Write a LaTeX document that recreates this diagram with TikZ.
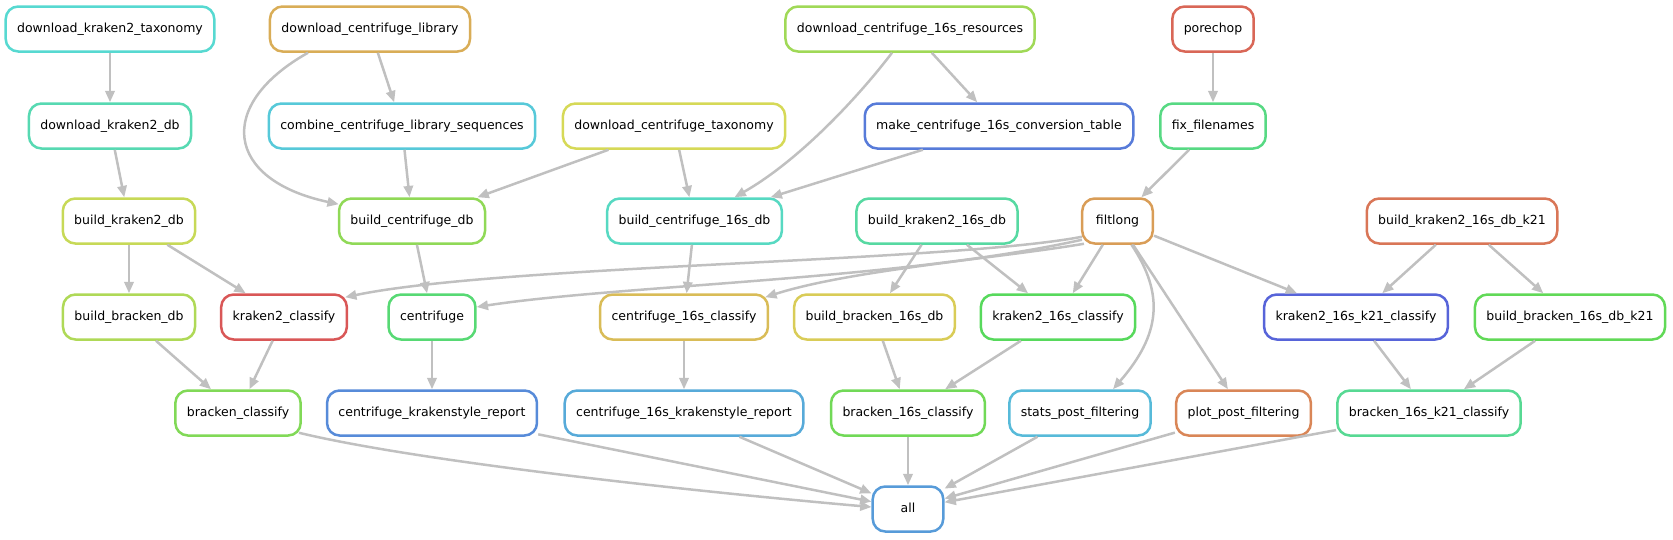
\documentclass[tikz,border=0pt]{standalone}
\usepackage{fontspec}
\setmainfont{DejaVu Sans}
\usetikzlibrary{arrows.meta,calc}
\definecolor{edgegrey}{HTML}{C0C0C0}
\definecolor{c0}{RGB}{217,87,87}
\definecolor{c1}{RGB}{217,103,87}
\definecolor{c2}{RGB}{217,118,87}
\definecolor{c3}{RGB}{217,134,87}
\definecolor{c4}{RGB}{217,157,87}
\definecolor{c5}{RGB}{217,173,87}
\definecolor{c6}{RGB}{217,188,87}
\definecolor{c7}{RGB}{217,204,87}
\definecolor{c8}{RGB}{214,217,87}
\definecolor{c9}{RGB}{199,217,87}
\definecolor{c10}{RGB}{175,217,87}
\definecolor{c11}{RGB}{160,217,87}
\definecolor{c12}{RGB}{144,217,87}
\definecolor{c13}{RGB}{129,217,87}
\definecolor{c14}{RGB}{113,217,87}
\definecolor{c15}{RGB}{97,217,87}
\definecolor{c16}{RGB}{87,217,92}
\definecolor{c17}{RGB}{87,217,116}
\definecolor{c18}{RGB}{87,217,131}
\definecolor{c19}{RGB}{87,217,147}
\definecolor{c20}{RGB}{87,217,162}
\definecolor{c21}{RGB}{87,217,178}
\definecolor{c22}{RGB}{87,217,194}
\definecolor{c23}{RGB}{87,217,209}
\definecolor{c24}{RGB}{87,201,217}
\definecolor{c25}{RGB}{87,186,217}
\definecolor{c26}{RGB}{87,170,217}
\definecolor{c27}{RGB}{87,155,217}
\definecolor{c28}{RGB}{87,139,217}
\definecolor{c29}{RGB}{87,123,217}
\definecolor{c30}{RGB}{87,100,217}
\begin{document}
\begin{tikzpicture}[x=0.75pt,y=-0.75pt,
  rule/.style={draw=c#1, line width=1.875pt, rounded corners=9.4pt, fill=white,
    font=\fontsize{9.375}{11}\selectfont, minimum height=33.75pt, minimum width=52.9pt,
    inner xsep=8.6pt, text height=7pt, text depth=2pt},
  dep/.style={draw=edgegrey, line width=1.875pt, -{Triangle[length=8.5pt,width=7pt]}}]
\useasboundingbox (0,0) rectangle (1673,539);
\node[rule=23] (dktax) at (110,29) {download\_kraken2\_taxonomy};
\node[rule=5] (dclib) at (370,29) {download\_centrifuge\_library};
\node[rule=11] (dc16s) at (910,29) {download\_centrifuge\_16s\_resources};
\node[rule=1] (porechop) at (1213,29) {porechop};
\node[rule=21] (dkdb) at (110,126) {download\_kraken2\_db};
\node[rule=24] (combine) at (402,126) {combine\_centrifuge\_library\_sequences};
\node[rule=8] (dctax) at (674,126) {download\_centrifuge\_taxonomy};
\node[rule=29] (convtab) at (999,126) {make\_centrifuge\_16s\_conversion\_table};
\node[rule=18] (fixnames) at (1213,126) {fix\_filenames};
\node[rule=9] (bkdb) at (129,221) {build\_kraken2\_db};
\node[rule=12] (bcdb) at (412,221) {build\_centrifuge\_db};
\node[rule=22] (bc16db) at (694.5,221) {build\_centrifuge\_16s\_db};
\node[rule=20] (bk16db) at (937,221) {build\_kraken2\_16s\_db};
\node[rule=4] (filtlong) at (1117.5,221) {filtlong};
\node[rule=2] (bk16k21) at (1462,221) {build\_kraken2\_16s\_db\_k21};
\node[rule=10] (bbdb) at (129,317) {build\_bracken\_db};
\node[rule=0] (k2cls) at (284,317) {kraken2\_classify};
\node[rule=17] (cfg) at (432,317) {centrifuge};
\node[rule=6] (c16cls) at (684,317) {centrifuge\_16s\_classify};
\node[rule=7] (bb16db) at (874.5,317) {build\_bracken\_16s\_db};
\node[rule=16] (k16cls) at (1058,317) {kraken2\_16s\_classify};
\node[rule=30] (k16k21cls) at (1356,317) {kraken2\_16s\_k21\_classify};
\node[rule=15] (bb16k21) at (1570,317) {build\_bracken\_16s\_db\_k21};
\node[rule=13] (bcls) at (238,413) {bracken\_classify};
\node[rule=28] (ckrep) at (432,413) {centrifuge\_krakenstyle\_report};
\node[rule=26] (c16krep) at (684,413) {centrifuge\_16s\_krakenstyle\_report};
\node[rule=14] (bb16cls) at (908,413) {bracken\_16s\_classify};
\node[rule=25] (stats) at (1080,413) {stats\_post\_filtering};
\node[rule=3] (plot) at (1243.5,413) {plot\_post\_filtering};
\node[rule=19] (bb16k21cls) at (1429,413) {bracken\_16s\_k21\_classify};
\node[rule=27] (all) at (908,509) {all};
\draw[dep] (dktax) -- (dkdb);
\draw[dep] (dkdb) -- (bkdb);
\draw[dep] (dclib) -- (combine);
\draw[dep] ($(dclib.south)+(-62,0)$) .. controls (215,105) and (225,180) .. ($(bcdb.north west)+(1,7)$);
\draw[dep] (combine) -- (bcdb);
\draw[dep] (dctax) -- (bcdb);
\draw[dep] (dctax) -- (bc16db);
\draw[dep] ($(dc16s.south)+(-18,0)$) .. controls (860,95) and (800,160) .. ($(bc16db.north)+(40,0)$);
\draw[dep] (dc16s) -- (convtab);
\draw[dep] (convtab) -- (bc16db);
\draw[dep] (porechop) -- (fixnames);
\draw[dep] (fixnames) -- (filtlong);
\draw[dep] (bkdb) -- (bbdb);
\draw[dep] (bkdb) -- (k2cls);
\draw[dep] (bcdb) -- (cfg);
\draw[dep] ($(filtlong.south west)+(1,-8)$) .. controls (950,262) and (500,265) .. ($(k2cls.north east)+(-3,4)$);
\draw[dep] ($(filtlong.south west)+(1,-5)$) .. controls (900,280) and (620,285) .. ($(cfg.east)+(0,-10)$);
\draw[dep] (bc16db) -- (c16cls);
\draw[dep] ($(filtlong.south west)+(3,-1)$) .. controls (1000,258) and (850,270) .. ($(c16cls.north east)+(-4,4)$);
\draw[dep] (bk16db) -- (bb16db);
\draw[dep] (bk16db) -- (k16cls);
\draw[dep] (filtlong) -- (k16cls);
\draw[dep] (filtlong) -- (k16k21cls);
\draw[dep] (bk16k21) -- (k16k21cls);
\draw[dep] (bk16k21) -- (bb16k21);
\draw[dep] ($(filtlong.south)+(14,0)$) .. controls (1165,295) and (1160,335) .. ($(stats.north)+(33,0)$);
\draw[dep] (filtlong) -- (plot);
\draw[dep] (bbdb) -- (bcls);
\draw[dep] (k2cls) -- (bcls);
\draw[dep] (cfg) -- (ckrep);
\draw[dep] (c16cls) -- (c16krep);
\draw[dep] (bb16db) -- (bb16cls);
\draw[dep] (k16cls) -- (bb16cls);
\draw[dep] (k16k21cls) -- (bb16k21cls);
\draw[dep] (bb16k21) -- (bb16k21cls);
\draw[dep] ($(bcls.south east)+(-3,-4)$) .. controls (420,462) and (700,492) .. ($(all.west)+(0,-2)$);
\draw[dep] (ckrep) -- (all);
\draw[dep] (c16krep) -- (all);
\draw[dep] (bb16cls) -- (all);
\draw[dep] (stats) -- (all);
\draw[dep] (plot) -- (all);
\draw[dep] (bb16k21cls) -- (all);
\end{tikzpicture}
\end{document}
